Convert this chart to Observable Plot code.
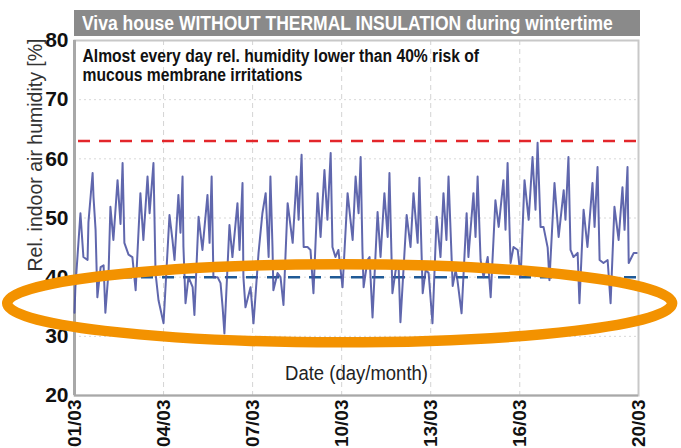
<!DOCTYPE html>
<html>
<head>
<meta charset="utf-8">
<script src="https://cdn.jsdelivr.net/npm/d3@7"></script>
<script src="https://cdn.jsdelivr.net/npm/@observablehq/plot@0.6"></script>
<style>
  html, body { margin: 0; padding: 0; background: #fff; }
  #wrap { position: relative; width: 681px; height: 448px; overflow: hidden; }
  #title {
    position: absolute; left: 74px; top: 10px; width: 566px; height: 26px;
    background: #8a8a8a; color: #fff; box-sizing: border-box; padding-left: 8px;
    font-family: "Liberation Sans", Arial, sans-serif;
    font-weight: bold; font-size: 20px; line-height: 26px; z-index: 2;
    white-space: nowrap; overflow: hidden;
  }
  #title span { display: inline-block; transform: scaleX(0.875); transform-origin: left center; }
</style>
</head>
<body>
<div id="wrap">
  <div id="title"><span>Viva house WITHOUT THERMAL INSULATION during wintertime</span></div>
  <div id="chart"></div>
</div>
<script>
// Time in days since 01/03 00:00, relative indoor air humidity [%]
const days = [
  0.00,0.03,0.20,0.30,0.44,0.47,0.61,0.64,0.71,0.77,0.88,0.98,
  1.04,1.15,1.21,1.31,1.45,1.55,1.62,1.68,1.82,1.95,
  2.06,2.22,2.32,2.46,2.53,2.66,2.73,2.83,
  3.00,3.20,3.30,3.37,3.50,3.57,3.64,3.67,3.74,3.84,3.98,
  4.04,4.18,4.31,4.48,4.55,4.62,4.68,4.82,4.92,4.99,
  5.05,5.15,5.22,5.32,5.49,5.56,5.66,5.69,5.76,5.93,
  6.03,6.20,6.33,6.44,6.54,6.60,6.67,6.70,6.84,6.94,
  7.04,7.18,7.35,7.48,7.55,7.65,7.72,7.85,7.95,
  8.05,8.19,8.29,8.42,8.52,8.63,8.69,8.79,8.89,
  9.03,9.20,9.37,9.47,9.57,9.64,9.70,9.74,9.87,9.94,
  10.04,10.21,10.31,10.44,10.55,10.61,10.71,10.82,10.92,10.98,
  11.19,11.32,11.42,11.56,11.62,11.73,11.83,11.93,
  12.06,12.20,12.33,12.43,12.53,12.60,12.74,12.84,12.90,
  13.04,13.21,13.27,13.44,13.51,13.58,13.68,13.78,13.92,
  14.02,14.18,14.29,14.45,14.52,14.59,14.69,14.79,14.93,
  15.03,15.16,15.30,15.43,15.53,15.60,15.70,15.80,15.94,
  16.00,16.17,16.31,16.48,16.54,16.64,16.71,16.81,16.95,
  17.01,17.15,17.28,17.45,17.52,17.62,17.69,17.82,17.96,
  18.06,18.19,18.33,18.46,18.53,18.63,18.67,18.77,18.84,18.94
];
const humidity = [
  34.0,38.3,50.8,43.4,42.9,49.3,57.6,53.6,48.0,36.6,41.7,42.0,
  34.0,41.2,51.9,46.3,56.4,49.0,59.3,45.8,43.8,43.4,
  37.8,54.2,46.3,57.0,50.8,59.3,40.7,36.1,
  32.2,50.5,46.3,42.9,53.9,47.5,57.0,45.1,35.6,40.0,38.3,
  33.6,50.2,44.6,53.9,45.8,57.0,40.0,40.0,39.0,34.9,
  30.5,41.2,48.8,43.4,52.5,44.6,55.9,40.0,34.9,38.3,
  32.2,44.1,50.8,54.2,43.4,57.0,45.1,37.8,40.7,40.0,
  35.3,52.5,45.8,57.0,49.7,60.7,45.1,45.1,44.6,
  37.3,54.2,46.8,58.1,49.7,61.0,45.1,43.4,44.6,
  38.3,54.2,46.3,57.0,50.8,60.3,44.6,38.3,42.9,43.4,
  33.2,51.0,43.4,54.2,46.8,57.6,37.3,41.2,41.7,32.4,
  50.5,45.1,54.2,45.8,56.8,37.3,41.2,40.7,
  32.2,50.2,43.4,54.2,46.3,57.0,38.5,41.2,39.5,
  33.9,50.8,43.4,54.2,46.8,57.0,42.9,40.0,43.4,
  36.6,53.0,48.5,56.4,48.0,59.3,42.4,45.1,44.6,
  40.0,56.4,49.7,60.3,51.4,62.7,48.5,48.5,45.0,
  39.5,55.9,46.8,54.7,49.7,60.3,44.6,43.4,44.1,
  35.6,51.4,45.1,55.9,48.5,58.6,42.9,42.4,42.9,
  35.6,51.9,46.3,55.2,48.0,58.6,42.4,43.4,44.1,44.1
];
const tickDays = [0, 3, 6, 9, 12, 15, 19];
const tickLabels = ["01/03", "04/03", "07/03", "10/03", "13/03", "16/03", "20/03"];
const yTicks = [20, 30, 40, 50, 60, 70, 80];
const upperLimit = [63];
const lowerLimit = [40];
const subtitle = ["Almost every day rel. humidity lower than 40% risk of\nmucous membrane irritations"];
const xLabel = ["Date (day/month)"];
const yLabel = ["Rel. indoor air humidity [%]"];
// orange highlight ellipse (annotation) in data units
const ellipseCenter = {day: 8.95, rh: 35.5};
const ellipseRadius = {day: 11.2, rh: 6.6};

const data = days.map((d, i) => ({day: d, rh: humidity[i]}));
const sans = '"Liberation Sans", Arial, sans-serif';

const ellipseMark = (index, scales) => {
  const cx = scales.x(ellipseCenter.day);
  const cy = scales.y(ellipseCenter.rh);
  const rx = scales.x(ellipseCenter.day + ellipseRadius.day) - cx;
  const ry = cy - scales.y(ellipseCenter.rh + ellipseRadius.rh);
  return d3.create("svg:ellipse")
    .attr("cx", cx).attr("cy", cy).attr("rx", rx).attr("ry", ry)
    .attr("fill", "none").attr("stroke", "#f39200").attr("stroke-width", 10.5)
    .node();
};

const chart = Plot.plot({
  width: 681,
  height: 448,
  marginLeft: 74,
  marginRight: 43,
  marginTop: 40,
  marginBottom: 53,
  style: {fontFamily: sans, background: "transparent", overflow: "visible"},
  x: {domain: [0, 19]},
  y: {domain: [20, 80]},
  marks: [
    Plot.ruleX(tickDays, {stroke: "#d4d4d4", strokeDasharray: "5,4", strokeWidth: 1}),
    Plot.ruleY(yTicks.slice(1, -1), {stroke: "#d8d8d8", strokeDasharray: "2,3", strokeWidth: 1}),
    Plot.frame({stroke: "#c8c8c8", strokeWidth: 2}),
    Plot.ruleX([0], {stroke: "#a8a8a8", strokeWidth: 3}),
    Plot.ruleY([20], {stroke: "#a8a8a8", strokeWidth: 2}),
    Plot.ruleY(upperLimit, {stroke: "#e3262b", strokeWidth: 2.5, strokeDasharray: "12,9", insetLeft: 4}),
    Plot.ruleY(lowerLimit, {stroke: "#1f5a96", strokeWidth: 2.5, strokeDasharray: "12,9", insetLeft: 4}),
    Plot.line(data, {x: "day", y: "rh", stroke: "#4a52a2", strokeWidth: 2, strokeOpacity: 0.88}),
    Plot.axisX({ticks: tickDays, tickFormat: d => tickLabels[tickDays.indexOf(d)], tickRotate: -90,
      tickSize: 0, tickPadding: 4, fontSize: 19, fontWeight: "bold", fill: "#111", label: null}),
    Plot.axisY({ticks: yTicks, tickSize: 0, tickPadding: 6, fontSize: 21, fontWeight: "bold", fill: "#111", label: null}),
    Plot.text(subtitle, {frameAnchor: "top-left", dx: 8, dy: 8, lineAnchor: "top", textAnchor: "start",
      fontSize: 18, fontWeight: "bold", fill: "#111", lineHeight: 1.05}),
    Plot.text(xLabel, {frameAnchor: "bottom", dy: -16, textAnchor: "middle", fontSize: 19.5, fill: "#222"}),
    Plot.text(yLabel, {frameAnchor: "left", textAnchor: "middle", rotate: -90, dx: -39, dy: -63,
      fontSize: 19.5, fill: "#333"}),
    ellipseMark
  ]
});

// condensed look: compress selected texts horizontally about their anchor
const condense = {};
condense[subtitle[0].split("\n")[0]] = 0.87;
condense[xLabel[0]] = 0.95;
d3.select(chart).selectAll("text").each(function() {
  const first = this.firstChild && this.firstChild.nodeType === 1 ? this.firstChild.textContent : this.textContent;
  const key = Object.keys(condense).find(k => this.textContent.startsWith(k) || first === k);
  if (key) {
    const t = this.getAttribute("transform") || "";
    this.setAttribute("transform", `${t} scale(${condense[key]},1)`);
  }
});
document.getElementById("chart").appendChild(chart);
</script>
</body>
</html>
